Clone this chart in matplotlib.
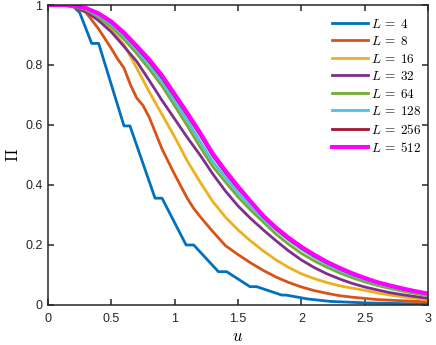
import numpy as np
import matplotlib
matplotlib.use("Agg")
import matplotlib.pyplot as plt

plt.rcParams["font.family"] = ["Liberation Sans", "DejaVu Sans"]
plt.rcParams["mathtext.fontset"] = "cm"

# u grid for the smooth curves
u = [0.0, 0.1, 0.2, 0.3, 0.4, 0.5, 0.6, 0.7, 0.8, 0.9, 1.0,
     1.1, 1.2, 1.3, 1.4, 1.5, 1.6, 1.7, 1.8, 1.9, 2.0,
     2.1, 2.2, 2.3, 2.4, 2.5, 2.6, 2.7, 2.8, 2.9, 3.0]

# L = 4 has visible steps, so it has its own u points
u_4 = [0.0, 0.15, 0.2, 0.25, 0.345, 0.40, 0.60, 0.647, 0.845, 0.90, 1.09,
       1.15, 1.345, 1.41, 1.594, 1.647, 1.845, 1.88, 2.05, 2.226, 2.5, 3.0]
pi_4 = [1.0, 1.0, 0.995, 0.975, 0.872, 0.872, 0.597, 0.597, 0.356, 0.356, 0.2,
        0.2, 0.111, 0.111, 0.061, 0.061, 0.033, 0.033, 0.02, 0.012, 0.007, 0.003]

u_8 = [0.0, 0.1, 0.2, 0.3, 0.4, 0.5, 0.55, 0.6, 0.65, 0.7, 0.75, 0.8, 0.9, 1.0,
       1.1, 1.15, 1.2, 1.3, 1.4, 1.5, 1.6, 1.7, 1.8, 1.9, 2.0,
       2.1, 2.2, 2.3, 2.4, 2.5, 2.6, 2.7, 2.8, 2.9, 3.0]
pi_8 = [1.0, 1.0, 0.995, 0.975, 0.92, 0.855, 0.82, 0.79, 0.735, 0.69, 0.665, 0.625, 0.52, 0.435,
        0.355, 0.322, 0.295, 0.245, 0.198, 0.168, 0.14, 0.115, 0.093, 0.075, 0.06,
        0.048, 0.039, 0.031, 0.026, 0.022, 0.018, 0.016, 0.014, 0.012, 0.011]

pi_16 = [1.0, 1.0, 0.995, 0.983, 0.96, 0.918, 0.868, 0.79, 0.71, 0.635, 0.56,
         0.48, 0.41, 0.345, 0.293, 0.25, 0.213, 0.18, 0.15, 0.125, 0.104,
         0.088, 0.075, 0.064, 0.056, 0.049, 0.04, 0.033, 0.027, 0.022, 0.017]
pi_32 = [1.0, 1.0, 0.996, 0.978, 0.948, 0.91, 0.862, 0.812, 0.748, 0.682, 0.62,
         0.558, 0.5, 0.437, 0.38, 0.33, 0.288, 0.25, 0.214, 0.18, 0.15,
         0.125, 0.104, 0.087, 0.072, 0.06, 0.05, 0.041, 0.034, 0.028, 0.022]
pi_64 = [1.0, 1.0, 0.997, 0.984, 0.96, 0.928, 0.886, 0.838, 0.786, 0.73, 0.664,
         0.597, 0.527, 0.462, 0.41, 0.36, 0.316, 0.276, 0.236, 0.202, 0.172,
         0.147, 0.126, 0.107, 0.091, 0.077, 0.065, 0.055, 0.046, 0.038, 0.03]
pi_128 = [1.0, 1.0, 0.998, 0.987, 0.966, 0.936, 0.896, 0.85, 0.801, 0.745, 0.68,
          0.615, 0.545, 0.478, 0.425, 0.374, 0.328, 0.287, 0.25, 0.216, 0.186,
          0.159, 0.136, 0.116, 0.099, 0.084, 0.071, 0.06, 0.051, 0.043, 0.034]
pi_256 = [1.0, 1.0, 0.999, 0.989, 0.97, 0.942, 0.904, 0.859, 0.812, 0.758, 0.696,
          0.633, 0.567, 0.498, 0.441, 0.389, 0.342, 0.294, 0.254, 0.22, 0.19,
          0.164, 0.141, 0.121, 0.103, 0.088, 0.074, 0.063, 0.053, 0.045, 0.037]
pi_512 = [1.0, 1.0, 0.999, 0.99, 0.972, 0.945, 0.908, 0.864, 0.818, 0.765, 0.703,
          0.64, 0.575, 0.505, 0.448, 0.395, 0.345, 0.297, 0.258, 0.224, 0.194,
          0.168, 0.144, 0.124, 0.106, 0.09, 0.076, 0.065, 0.055, 0.046, 0.038]

sizes = [4, 8, 16, 32, 64, 128, 256, 512]
colors = ["#0072BD", "#D95319", "#EDB120", "#7E2F8E",
          "#77AC30", "#4DBEEE", "#A2142F", "#FF00FF"]

series = [(u_4, pi_4), (u_8, pi_8), (u, pi_16), (u, pi_32),
          (u, pi_64), (u, pi_128), (u, pi_256), (u, pi_512)]

fig = plt.figure(figsize=(4.36, 3.45), dpi=100)
ax = fig.add_axes([0.110, 0.116, 0.872, 0.8695])

for (x, y), L, c in zip(series, sizes, colors):
    lw = 2.9 if L == 512 else 2.0
    ax.plot(x, y, color=c, lw=lw, label=rf"$L\:=\:{L}$")

ax.set_xlim(0, 3)
ax.set_ylim(0, 1)
ax.set_xticks([0, 0.5, 1, 1.5, 2, 2.5, 3])
ax.set_xticklabels(["0", "0.5", "1", "1.5", "2", "2.5", "3"])
ax.set_yticks([0, 0.2, 0.4, 0.6, 0.8, 1])
ax.set_yticklabels(["0", "0.2", "0.4", "0.6", "0.8", "1"])
ax.tick_params(direction="in", top=True, right=True, length=4, width=1.1,
               labelsize=9, colors="#262626")
ax.tick_params(axis="x", pad=6)
ax.tick_params(axis="y", pad=4)
for s in ax.spines.values():
    s.set_linewidth(1.1)
    s.set_color("#262626")

ax.set_xlabel("$u$", fontsize=12, labelpad=3)
ax.set_ylabel(r"$\Pi$", fontsize=12, labelpad=3)

ax.legend(loc="upper left", frameon=False, fontsize=9.5, handlelength=2.78,
          handletextpad=0.2, labelspacing=0.34, borderaxespad=0, borderpad=0,
          bbox_to_anchor=(0.7466, 0.958))

fig.savefig("out.png", dpi=100)
